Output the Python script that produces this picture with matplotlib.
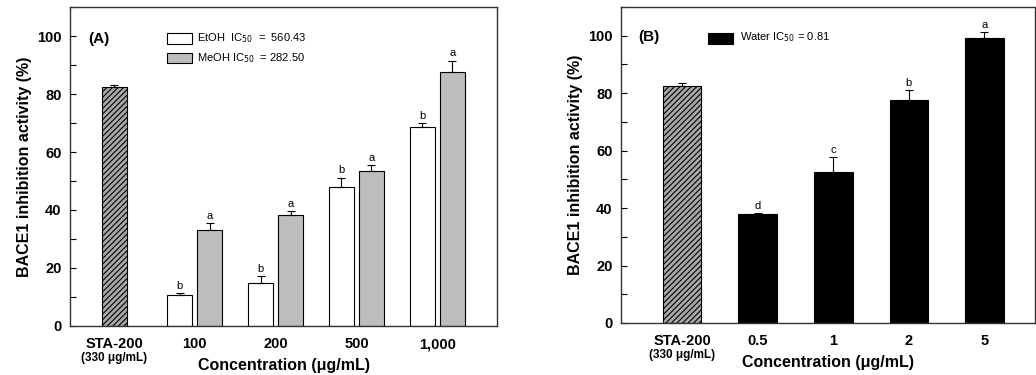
"""BACE1 inhibition activity bar charts, panels (A) and (B)."""

import matplotlib

matplotlib.use("Agg")
import matplotlib.pyplot as plt
import numpy as np
from matplotlib.patches import Rectangle
from matplotlib.ticker import MultipleLocator

plt.rcParams["font.family"] = ["Liberation Sans", "DejaVu Sans"]
plt.rcParams["hatch.linewidth"] = 0.8

# panel A data
conc_a = ["100", "200", "500", "1,000"]
sta_value = 82.3
sta_err = 0.8
etoh = [10.6, 14.9, 48.1, 68.6]
etoh_err = [0.7, 2.3, 3.0, 1.3]
etoh_letters = ["b", "b", "b", "b"]
meoh = [33.1, 38.4, 53.4, 87.7]
meoh_err = [2.3, 1.3, 2.0, 3.8]
meoh_letters = ["a", "a", "a", "a"]

# panel B data
conc_b = ["0.5", "1", "2", "5"]
sta_value_b = 82.4
sta_err_b = 1.1
water = [37.8, 52.6, 77.5, 99.1]
water_err = [0.5, 5.2, 3.6, 2.2]
water_letters = ["d", "c", "b", "a"]

fig = plt.figure(figsize=(10.36, 3.75), dpi=100)
ax_a = fig.add_axes([0.0676, 0.1307, 0.4121, 0.8506])
ax_b = fig.add_axes([0.5994, 0.1387, 0.3996, 0.8426])

err_kw = dict(ecolor="black", elinewidth=0.8, capsize=3, capthick=0.8)


def style_axis(ax, xlim, labels):
    ax.set_ylim(0, 110)
    ax.set_xlim(*xlim)
    ax.yaxis.set_major_locator(MultipleLocator(20))
    ax.yaxis.set_minor_locator(MultipleLocator(10))
    ax.set_yticks([0, 20, 40, 60, 80, 100])
    ax.tick_params(axis="y", which="both", direction="in", length=4, width=0.8,
                   labelsize=10.5)
    ax.tick_params(axis="y", which="major", pad=6)
    ax.tick_params(axis="x", length=0, labelsize=10.5, pad=8)
    for lab in ax.get_yticklabels():
        lab.set_fontweight("bold")
    ax.set_xticks(np.arange(len(labels)))
    ax.set_xticklabels(labels, fontweight="bold")
    ax.text(0, -0.10, "(330 \u03bcg/mL)", transform=ax.get_xaxis_transform(),
            ha="center", va="center", fontsize=8.5, fontweight="bold")
    ax.set_ylabel("BACE1 inhibition activity (%)", fontsize=11.5, fontweight="bold",
                  labelpad=4)
    ax.set_xlabel("Concentration (\u03bcg/mL)", fontsize=11.5, fontweight="bold",
                  labelpad=5)
    for sp in ax.spines.values():
        sp.set_linewidth(1.0)
        sp.set_color("#333333")


# ---- panel A ----
w = 0.31
x = np.arange(1, len(conc_a) + 1)
ax_a.bar(0, sta_value, width=w, color="#a8a8a8", edgecolor="black", hatch="//////",
         linewidth=0.8, yerr=[[0], [sta_err]], error_kw=err_kw)
ax_a.bar(x - 0.186, etoh, width=w, color="white", edgecolor="black", linewidth=0.8,
         yerr=[np.zeros(len(etoh)), etoh_err], error_kw=err_kw)
ax_a.bar(x + 0.186, meoh, width=w, color="#bdbdbd", edgecolor="black", linewidth=0.8,
         yerr=[np.zeros(len(meoh)), meoh_err], error_kw=err_kw)
for xi, v, e, t in zip(x - 0.186, etoh, etoh_err, etoh_letters):
    ax_a.text(xi, v + e + 0.8, t, ha="center", va="bottom", fontsize=8)
for xi, v, e, t in zip(x + 0.186, meoh, meoh_err, meoh_letters):
    ax_a.text(xi, v + e + 0.8, t, ha="center", va="bottom", fontsize=8)
style_axis(ax_a, (-0.545, 4.74), ["STA-200"] + conc_a)
ax_a.text(0.042, 0.90, "(A)", transform=ax_a.transAxes, fontsize=11, fontweight="bold",
          va="center")
ax_a.add_patch(Rectangle((0.228, 0.885), 0.057, 0.034, transform=ax_a.transAxes,
                         facecolor="white", edgecolor="black", linewidth=0.8))
ax_a.add_patch(Rectangle((0.228, 0.823), 0.057, 0.034, transform=ax_a.transAxes,
                         facecolor="#bdbdbd", edgecolor="black", linewidth=0.8))
ax_a.text(0.298, 0.902, "EtOH  IC$_{50}$  =  560.43", transform=ax_a.transAxes,
          fontsize=8, va="center")
ax_a.text(0.298, 0.840, "MeOH IC$_{50}$  = 282.50", transform=ax_a.transAxes,
          fontsize=8, va="center")

# ---- panel B ----
wb = 0.51
xb = np.arange(1, len(conc_b) + 1)
ax_b.bar(0, sta_value_b, width=wb, color="#a8a8a8", edgecolor="black", hatch="//////",
         linewidth=0.8, yerr=[[0], [sta_err_b]], error_kw=err_kw)
ax_b.bar(xb, water, width=wb, color="black", edgecolor="black", linewidth=0.8,
         yerr=[np.zeros(len(water)), water_err], error_kw=err_kw)
for xi, v, e, t in zip(xb, water, water_err, water_letters):
    ax_b.text(xi, v + e + 0.8, t, ha="center", va="bottom", fontsize=8)
style_axis(ax_b, (-0.81, 4.67), ["STA-200"] + conc_b)
ax_b.text(0.042, 0.905, "(B)", transform=ax_b.transAxes, fontsize=11, fontweight="bold",
          va="center")
ax_b.add_patch(Rectangle((0.211, 0.883), 0.06, 0.036, transform=ax_b.transAxes,
                         facecolor="black", edgecolor="black", linewidth=0.8))
ax_b.text(0.287, 0.905, "Water IC$_{50}$ = 0.81", transform=ax_b.transAxes,
          fontsize=8, va="center")

fig.savefig("out.png", dpi=100)
